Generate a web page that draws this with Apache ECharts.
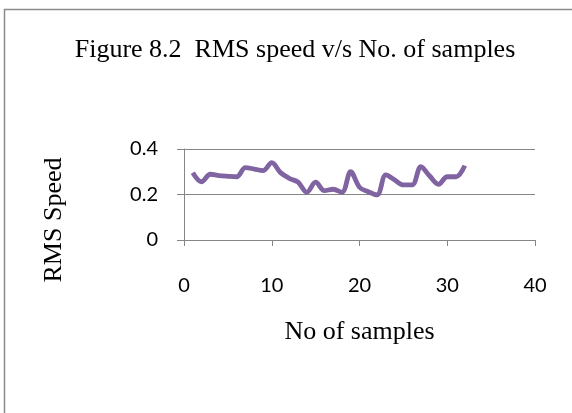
<!DOCTYPE html>
<html>
<head>
<meta charset="utf-8">
<script src="https://cdn.jsdelivr.net/npm/echarts@6/dist/echarts.min.js"></script>
<style>
html,body{margin:0;padding:0;background:#fff;}
#chart{width:572px;height:413px;}
</style>
</head>
<body>
<div id="chart"></div>
<script>
const samples = [1,2,3,4,5,6,7,8,9,10,11,12,13,14,15,16,17,18,19,20,21,22,23,24,25,26,27,28,29,30,31,32];
const rmsSpeed = [0.296,0.256,0.289,0.283,0.280,0.278,0.318,0.312,0.305,0.340,0.296,0.271,0.254,0.210,0.254,0.217,0.223,0.210,0.300,0.232,0.212,0.198,0.286,0.264,0.242,0.242,0.322,0.281,0.245,0.278,0.278,0.327];
const xTicks = [0,10,20,30,40];
const yTicks = [0,0.2,0.4];

const chart = echarts.init(document.getElementById('chart'), null, {renderer:'canvas'});
const axisGray = '#868686';
chart.setOption({
  animation:false,
  backgroundColor:'#fff',
  graphic:[{
    type:'rect', shape:{x:4.5,y:9.5,width:700,height:600},
    style:{fill:'none',stroke:'#8a8a8a',lineWidth:1.5}, silent:true
  },{
    type:'text', x:54, y:220, rotation:Math.PI/2,
    style:{text:'RMS Speed', font:'26px "Liberation Serif"', fill:'#000', align:'center', verticalAlign:'middle'},
    silent:true
  }],
  title:{
    text:'Figure 8.2  RMS speed v/s No. of samples',
    left:290, top:32, textAlign:'center',
    textStyle:{fontFamily:'Liberation Serif',fontSize:26,fontWeight:'normal',color:'#000'}
  },
  grid:{left:184,right:37,top:149,bottom:173},
  xAxis:{
    type:'value', min:xTicks[0], max:xTicks[xTicks.length-1], interval:10,
    name:'No of samples', nameLocation:'middle', nameGap:79,
    nameTextStyle:{fontFamily:'Liberation Serif',fontSize:26,color:'#000'},
    axisLine:{show:true,lineStyle:{color:axisGray,width:1}},
    axisTick:{show:true,length:6,lineStyle:{color:axisGray}},
    splitLine:{show:false},
    axisLabel:{margin:36,fontFamily:'Lato',fontSize:20,color:'#000'}
  },
  yAxis:{
    type:'value', min:yTicks[0], max:yTicks[yTicks.length-1], interval:0.2,
    axisLine:{show:true,lineStyle:{color:axisGray,width:1}},
    axisTick:{show:true,length:7,lineStyle:{color:axisGray}},
    splitLine:{show:true,lineStyle:{color:axisGray,width:1}},
    axisLabel:{margin:26,fontFamily:'Lato',fontSize:20,color:'#000'}
  },
  series:[{
    type:'line',
    data:samples.map((s,i)=>[s,rmsSpeed[i]]),
    smooth:0.35,
    symbol:'none',
    lineStyle:{color:'#8064A2',width:4.8}
  }]
});
</script>
</body>
</html>
